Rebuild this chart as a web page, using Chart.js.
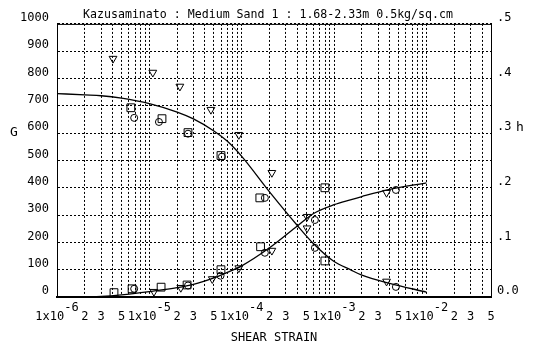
<!DOCTYPE html>
<html lang="en">
<head>
    <meta charset="UTF-8">
    <title>Kazusaminato : Medium Sand 1</title>
    <script src="https://cdn.jsdelivr.net/npm/chart.js"></script>
    <style>
        body {
            margin: 0;
            background: #fff;
        }
        .chart-box {
            width: 536px;
            height: 348px;
        }
    </style>
</head>
<body>
    <div class="chart-box"><canvas id="strainChart"></canvas></div>

    <script>
        // fitted G and h curves, read at gridline strains
        const curveStrain = [1e-6, 2e-6, 3e-6, 5e-6, 1e-5, 2e-5, 3e-5, 5e-5, 7e-5, 1e-4, 2e-4, 4e-4, 6e-4, 1e-3, 1.5e-3, 2e-3, 4e-3, 1e-2];
        const curveG = [745, 740, 737, 728, 708, 677, 652, 608, 570, 515, 385, 262, 195, 130, 100, 80, 50, 18];
        const curveH = [0, 0, 0.001, 0.004, 0.010, 0.017, 0.023, 0.035, 0.045, 0.057, 0.090, 0.130, 0.153, 0.169, 0.178, 0.184, 0.197, 0.209];

        // measured G (left axis)
        const gSquareStrain = [6.3e-6, 1.37e-5, 2.62e-5, 5.96e-5, 1.57e-4, 7.95e-4];
        const gSquare = [693, 653, 602, 518, 363, 132];
        const gCircleStrain = [6.85e-6, 1.27e-5, 2.62e-5, 6.1e-5, 1.78e-4, 6.2e-4, 4.67e-3];
        const gCircle = [656, 641, 598, 514, 363, 180, 37];
        const gTriStrain = [4.04e-6, 1.09e-5, 2.14e-5, 4.64e-5, 9.3e-5, 2.12e-4, 5.1e-4, 3.7e-3];
        const gTri = [873, 822, 771, 686, 594, 455, 252, 57];

        // measured h (right axis)
        const hSquareStrain = [4.14e-6, 6.5e-6, 1.34e-5, 2.56e-5, 5.96e-5, 1.6e-4, 7.95e-4];
        const hSquare = [0.008, 0.015, 0.018, 0.022, 0.050, 0.092, 0.200];
        const hCircleStrain = [6.85e-6, 2.62e-5, 5.9e-5, 1.78e-4, 6.2e-4, 4.67e-3];
        const hCircle = [0.015, 0.021, 0.039, 0.081, 0.141, 0.196];
        const hTriStrain = [1.12e-5, 2.19e-5, 4.8e-5, 9.3e-5, 2.12e-4, 5.1e-4, 3.7e-3];
        const hTri = [0.0097, 0.017, 0.033, 0.053, 0.085, 0.147, 0.191];

        // log axis: gridline at every 1..9, labels only at 1, 2, 3, 5
        const xDecades = [-6, -5, -4, -3, -2];
        const gridMantissas = [1, 2, 3, 4, 5, 6, 7, 8, 9];
        const labelMantissas = [1, 2, 3, 5];
        const xMin = 1e-6;
        const xMax = 5e-2;

        const xTickValues = [];
        xDecades.forEach(d => {
            gridMantissas.forEach(m => {
                const v = m * Math.pow(10, d);
                if (v <= xMax * 1.0001) xTickValues.push(v);
            });
        });

        const pairs = (xs, ys) => xs.map((x, i) => ({ x: x, y: ys[i] }));
        const mono = '"DejaVu Sans Mono", "Liberation Mono", monospace';

        const curveStyle = {
            showLine: true,
            borderColor: "#000",
            borderWidth: 1.3,
            pointRadius: 0,
            fill: false,
            cubicInterpolationMode: "monotone",
        };
        const marker = (style, radius, rotation) => ({
            showLine: false,
            pointStyle: style,
            pointRadius: radius,
            pointRotation: rotation || 0,
            borderColor: "#000",
            backgroundColor: "rgba(255,255,255,0)",
            pointBorderWidth: 1,
        });

        // solid top edge of the frame plus the upright G / h axis letters
        const frame = {
            id: "frame",
            afterDraw(chart) {
                const { ctx, chartArea: a } = chart;
                ctx.save();
                ctx.strokeStyle = "#000";
                ctx.lineWidth = 1;
                ctx.beginPath();
                ctx.moveTo(a.left, a.top + 0.5);
                ctx.lineTo(a.right, a.top + 0.5);
                ctx.stroke();
                ctx.fillStyle = "#000";
                ctx.font = "13px " + mono;
                ctx.textAlign = "center";
                ctx.textBaseline = "middle";
                ctx.fillText("G", 14, 133);
                ctx.fillText("h", 520, 128);
                ctx.restore();
            }
        };

        new Chart(document.getElementById("strainChart"), {
            type: "scatter",
            data: {
                datasets: [
                    { ...curveStyle, data: pairs(curveStrain, curveG), yAxisID: "y" },
                    { ...curveStyle, data: pairs(curveStrain, curveH), yAxisID: "y2" },
                    { ...marker("rect", 5.5), data: pairs(gSquareStrain, gSquare), yAxisID: "y" },
                    { ...marker("circle", 3.5), data: pairs(gCircleStrain, gCircle), yAxisID: "y" },
                    { ...marker("triangle", 4.5, 180), data: pairs(gTriStrain, gTri), yAxisID: "y" },
                    { ...marker("rect", 5.5), data: pairs(hSquareStrain, hSquare), yAxisID: "y2" },
                    { ...marker("circle", 3.5), data: pairs(hCircleStrain, hCircle), yAxisID: "y2" },
                    { ...marker("triangle", 4.5, 180), data: pairs(hTriStrain, hTri), yAxisID: "y2" },
                ],
            },
            plugins: [frame],
            options: {
                responsive: true,
                maintainAspectRatio: false,
                animation: false,
                events: [],
                layout: { padding: 0 },
                plugins: {
                    legend: { display: false },
                    tooltip: { enabled: false },
                    title: {
                        display: true,
                        text: "Kazusaminato : Medium Sand 1 : 1.68-2.33m 0.5kg/sq.cm",
                        color: "#000",
                        font: { family: mono, size: 11.6, weight: "normal" },
                        padding: { top: 8, bottom: 2 },
                    },
                },
                scales: {
                    x: {
                        type: "logarithmic",
                        min: xMin,
                        max: xMax,
                        afterBuildTicks: scale => {
                            scale.ticks = xTickValues.map(v => ({ value: v }));
                        },
                        afterFit: scale => { scale.height = 51; },
                        grid: { color: "#000", lineWidth: 1, drawTicks: false },
                        border: { color: "#000", width: 2, dash: [2, 2] },
                        ticks: {
                            autoSkip: false,
                            maxRotation: 0,
                            minRotation: 0,
                            padding: 6,
                            color: "#000",
                            font: { family: mono, size: 12, lineHeight: 0.75 },
                            callback: value => {
                                const exp = Math.floor(Math.log10(value) + 1e-9);
                                const m = Math.round(value / Math.pow(10, exp));
                                if (m === 1) return ["    " + exp, "1x10  "];
                                return labelMantissas.includes(m) ? ["", String(m)] : "";
                            },
                        },
                        title: {
                            display: true,
                            text: "SHEAR STRAIN",
                            color: "#000",
                            font: { family: mono, size: 12, lineHeight: 1.2 },
                            padding: { top: 0, bottom: 3 },
                        },
                    },
                    y: {
                        position: "left",
                        min: 0,
                        max: 1000,
                        afterFit: scale => { scale.width = 57; },
                        grid: { color: "#000", lineWidth: 1, drawTicks: false },
                        border: { color: "#000", width: 1, dash: [2, 2] },
                        ticks: {
                            stepSize: 100,
                            padding: 8,
                            labelOffset: -6,
                            color: "#000",
                            font: { family: mono, size: 12 },
                            callback: v => String(v),
                        },
                    },
                    y2: {
                        position: "right",
                        min: 0,
                        max: 0.5,
                        afterFit: scale => { scale.width = 45; },
                        grid: { display: false, drawTicks: false },
                        border: { color: "#000", width: 1 },
                        ticks: {
                            stepSize: 0.1,
                            padding: 6,
                            labelOffset: -6,
                            color: "#000",
                            font: { family: mono, size: 12 },
                            callback: v => (v === 0 ? "0.0" : "." + Math.round(v * 10)),
                        },
                    },
                },
            },
        });
    </script>
</body>
</html>
